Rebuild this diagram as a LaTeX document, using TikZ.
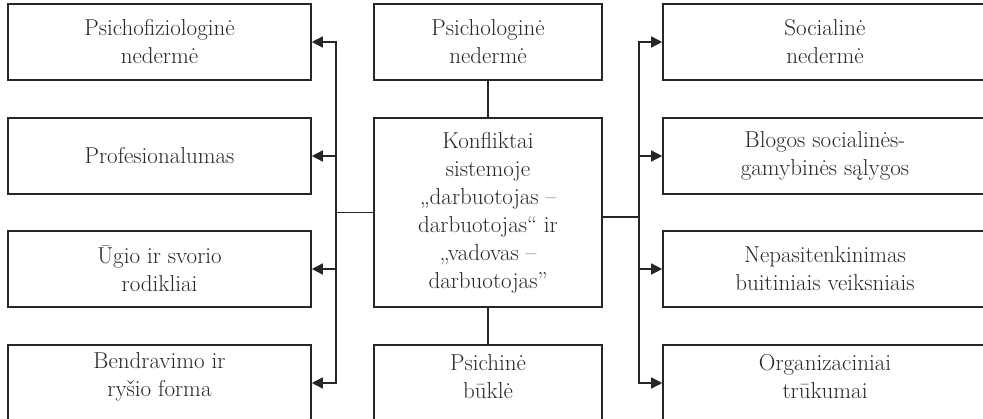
\documentclass[tikz,border=0pt]{standalone}
\usetikzlibrary{arrows.meta,calc}
\definecolor{linecol}{RGB}{38,38,38}
\begin{document}
\begin{tikzpicture}[x=1pt,y=-1pt,
  box/.style={draw=linecol, line width=1.6pt, minimum height=76pt,
    align=center, inner sep=0pt, text=linecol,
    font=\fontsize{23}{28}\selectfont},
  lbox/.style={box, minimum width=303pt},
  mbox/.style={box, minimum width=228pt},
  rbox/.style={box, minimum width=324pt},
  txt/.style={align=center, inner sep=0pt, text=linecol,
    font=\fontsize{23}{28}\selectfont},
  link/.style={draw=linecol, line width=1.5pt},
  arr/.style={link, -{Triangle[length=11pt,width=11pt]}}]
\useasboundingbox (0,0) rectangle (983,419);
\clip (0,0) rectangle (983,419);

% left column
\node[lbox] (pf) at (159.5,42)  {Psichofiziologinė\\nedermė};
\node[lbox] (pr) at (159.5,156) {Profesionalumas};
\node[lbox] (ug) at (159.5,269) {Ūgio ir svorio\\rodikliai};
\node[lbox] (be) at (159.5,383) {};
\node[txt] (be-t) at ($(be)+(0,-6)$) {Bendravimo ir\\ryšio forma};

% middle column
\node[mbox] (ps) at (488,42) {Psichologinė\\nedermė};
\node[mbox, minimum height=189pt] (ko) at (488,212.5)
  {Konfliktai\\sistemoje\\„darbuotojas –\\darbuotojas“ ir\\„vadovas –\\darbuotojas”};
\node[mbox] (pb) at (488,383) {};
\node[txt] (pb-t) at ($(pb)+(0,-6)$) {Psichinė\\būklė};

% right column
\node[rbox] (so) at (825,42)  {Socialinė\\nedermė};
\node[rbox] (bl) at (825,156) {Blogos socialinės-\\gamybinės sąlygos};
\node[rbox] (ne) at (825,269) {Nepasitenkinimas\\buitiniais veiksniais};
\node[rbox] (or) at (825,383) {};
\node[txt] (or-t) at ($(or)+(0,-6)$) {Organizaciniai\\trūkumai};

% vertical links of the middle column
\draw[link] (ps.south) -- (ko.north);
\draw[link] (ko.south) -- (pb.north);

% left bus
\coordinate (lb) at (336,212.5);
\draw[link] (ko.west) -- (lb);
\foreach \n in {pf,pr,ug,be} \draw[arr] (lb) |- (\n.east);

% right bus
\coordinate (rb) at (639,217);
\draw[link] ($(ko.east)+(0,4.5)$) -- (rb);
\foreach \n in {so,bl,ne,or} \draw[arr] (rb) |- (\n.west);
\end{tikzpicture}
\end{document}
